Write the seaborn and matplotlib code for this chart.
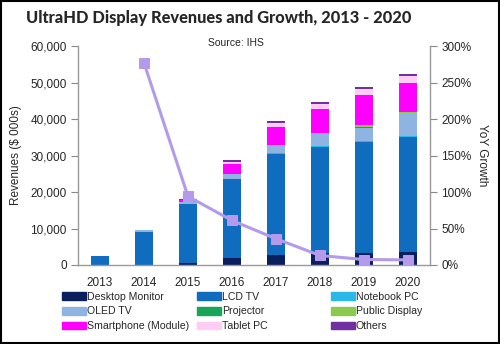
import numpy as np
import pandas as pd
import matplotlib
matplotlib.use("Agg")
import matplotlib.pyplot as plt
import matplotlib.patches as mpatches
from matplotlib.ticker import FuncFormatter
import seaborn as sns

years = ["2013", "2014", "2015", "2016", "2017", "2018", "2019", "2020"]
desktop_monitor = [0, 0, 600, 2000, 2800, 3200, 3400, 3600]
lcd_tv = [2350, 9100, 16200, 21700, 27600, 29200, 30300, 31400]
notebook_pc = [0, 0, 0, 0, 200, 200, 200, 250]
oled_tv = [0, 400, 600, 1300, 2200, 3300, 3600, 6300]
projector = [0, 0, 0, 0, 100, 100, 200, 150]
public_display = [0, 0, 0, 0, 100, 250, 700, 200]
smartphone = [0, 0, 400, 2800, 4700, 6500, 8100, 8000]
tablet_pc = [0, 0, 100, 500, 1100, 1500, 1700, 1900]
others = [0, 0, 100, 400, 700, 400, 500, 500]
yoy_growth = [np.nan, 277, 94, 61, 36, 13, 7.5, 7]

series_names = ["Desktop Monitor", "LCD TV", "Notebook PC", "OLED TV", "Projector",
                "Public Display", "Smartphone (Module)", "Tablet PC", "Others"]
series_values = [desktop_monitor, lcd_tv, notebook_pc, oled_tv, projector,
                 public_display, smartphone, tablet_pc, others]
colors = ["#0b1f5e", "#0f6cbf", "#2ab8ea", "#8fb4e2", "#17a659", "#8dc94f",
          "#ff00ff", "#ffccf6", "#7030a0"]
line_color = "#b49aea"

sns.set_style("white")
plt.rcParams["font.family"] = ["Liberation Sans Narrow", "Liberation Sans", "DejaVu Sans"]

fig = plt.figure(figsize=(5.0, 3.44), dpi=100)
ax = fig.add_axes([0.156, 0.2297, 0.704, 0.6363])

cum = np.zeros(len(years))
cums = []
for vals in series_values:
    cum = cum + np.array(vals, dtype=float)
    cums.append(cum.copy())

# draw from top layer down so lower segments overlay
for name, c, col in reversed(list(zip(series_names, cums, colors))):
    d = pd.DataFrame({"year": years, "value": c})
    sns.barplot(data=d, x="year", y="value", color=col, width=0.4,
                saturation=1, ax=ax, linewidth=0, order=years)

ax.set_ylim(0, 60000)
ax.set_xlim(-0.5, len(years) - 0.5)
ax.set_yticks(np.arange(0, 60001, 10000))
ax.yaxis.set_major_formatter(FuncFormatter(lambda v, p: f"{int(v):,}"))
ax.set_xlabel("")
ax.set_ylabel("Revenues ($ 000s)", fontsize=8.5, labelpad=6)
ax.set_xticks(range(len(years)))
ax.set_xticklabels(years)
ax.set_xticks(np.arange(-0.5, len(years), 1), minor=True)
ax.tick_params(axis="x", which="major", length=0, labelsize=8.5, pad=9)
ax.tick_params(axis="x", which="minor", length=5, color="#888888", direction="out")
ax.tick_params(axis="y", length=5, color="#888888", labelsize=8.5, direction="out",
               left=True, pad=3)

for s in ["left", "bottom"]:
    ax.spines[s].set_color("#999999")
    ax.spines[s].set_linewidth(1)
ax.spines["top"].set_visible(False)
ax.spines["right"].set_visible(False)

ax2 = ax.twinx()
ldf = pd.DataFrame({"pos": np.arange(len(years)), "growth": yoy_growth})
sns.lineplot(data=ldf, x="pos", y="growth", ax=ax2, color=line_color, linewidth=2.2,
             marker="s", markersize=7, markeredgecolor=line_color)
ax2.set_ylim(0, 300)
ax2.set_xlim(-0.5, len(years) - 0.5)
ax2.set_yticks(np.arange(0, 301, 50))
ax2.yaxis.set_major_formatter(FuncFormatter(lambda v, p: f"{int(v)}%"))
ax2.set_ylabel("YoY Growth", fontsize=8.5, rotation=270, labelpad=12)
ax2.set_xlabel("")
ax2.tick_params(axis="y", length=5, color="#888888", labelsize=8.5, direction="out",
                right=True, pad=3)
for s in ["top", "left", "bottom"]:
    ax2.spines[s].set_visible(False)
ax2.spines["right"].set_color("#999999")
ax2.spines["right"].set_linewidth(1)

fig.text(0.052, 0.948, "UltraHD Display Revenues and Growth, 2013 - 2020",
         fontsize=11.8, fontweight="black", family=["Lato", "DejaVu Sans"],
         va="center", ha="left")
fig.text(0.472, 0.874, "Source: IHS", fontsize=7.5, ha="center", va="center")

# legend: three columns placed at fixed positions, row-wise order
col_x = [0.124, 0.394, 0.662]
for k in range(3):
    idx = [k, k + 3, k + 6]
    handles = [mpatches.Patch(color=colors[i], label=series_names[i]) for i in idx]
    fig.legend(handles=handles, ncol=1, loc="upper left",
               bbox_to_anchor=(col_x[k], 0.152), frameon=False, fontsize=7.6,
               handlelength=2.25, handleheight=0.75, handletextpad=0.1,
               labelspacing=0.45, borderpad=0, borderaxespad=0)

border = mpatches.Rectangle((0.002, 0.003), 0.996, 0.994, transform=fig.transFigure,
                            fill=False, edgecolor="black", linewidth=1.5)
fig.patches.append(border)

fig.savefig("out.png", dpi=100)
